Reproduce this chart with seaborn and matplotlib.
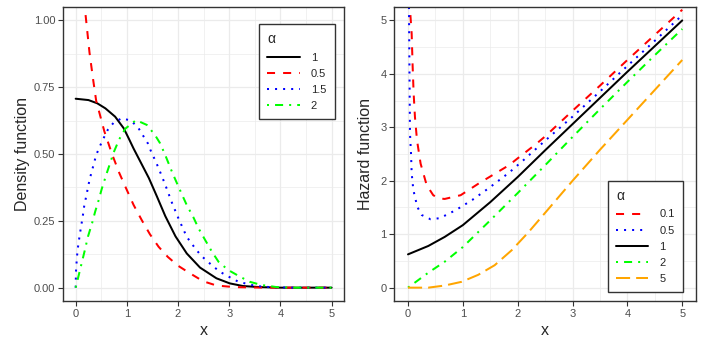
import matplotlib
matplotlib.use("Agg")
import matplotlib.pyplot as plt
from matplotlib.ticker import MultipleLocator
import seaborn as sns
import pandas as pd

# ---- density panel ----
dens_order = ["1", "0.5", "1.5", "2"]

dens_x_1 = [0, 0.25, 0.42, 0.58, 0.77, 0.94, 1.04, 1.13, 1.23, 1.43, 1.59, 1.75,
            1.95, 2.17, 2.43, 2.75, 3.01, 3.27, 3.6, 4.0, 4.5, 5.0]
dens_y_1 = [0.707, 0.702, 0.69, 0.671, 0.64, 0.596, 0.557, 0.521, 0.484, 0.41, 0.34, 0.268,
            0.192, 0.128, 0.075, 0.035, 0.016, 0.006, 0.002, 0.0, 0.0, 0.0]

dens_x_05 = [0.01, 0.05, 0.1, 0.18, 0.27, 0.34, 0.40, 0.56, 0.71, 0.85, 0.97, 1.13, 1.29,
             1.45, 1.62, 1.8, 2.0, 2.23, 2.49, 2.75, 3.1, 3.5, 4.0, 4.5, 5.0]
dens_y_05 = [4.5, 2.0, 1.42, 1.045, 0.88, 0.78, 0.70, 0.585, 0.50, 0.43, 0.378, 0.31, 0.253,
             0.2, 0.153, 0.115, 0.082, 0.054, 0.024, 0.008, 0.002, 0.0005, 0.0, 0.0, 0.0]

dens_x_15 = [0, 0.006, 0.025, 0.045, 0.058, 0.1, 0.137, 0.17, 0.21, 0.25, 0.3, 0.35, 0.40,
             0.47, 0.55, 0.625, 0.74, 0.90, 1.08, 1.22, 1.31, 1.41, 1.48, 1.55, 1.62, 1.74,
             1.88, 2.01, 2.17, 2.35, 2.46, 2.70, 2.85, 3.01, 3.18, 3.35, 3.53, 3.8, 4.2, 5.0]
dens_y_15 = [0, 0.06, 0.116, 0.151, 0.17, 0.222, 0.265, 0.31, 0.345, 0.385, 0.425, 0.46, 0.496,
             0.528, 0.561, 0.59, 0.617, 0.634, 0.625, 0.599, 0.571, 0.54, 0.506, 0.478, 0.447, 0.39,
             0.318, 0.258, 0.19, 0.143, 0.118, 0.077, 0.056, 0.039, 0.022, 0.014, 0.006, 0.002, 0.0, 0.0]

dens_x_2 = [0, 0.045, 0.12, 0.18, 0.24, 0.32, 0.38, 0.45, 0.51, 0.61, 0.68, 0.74, 0.85, 0.97,
            1.18, 1.39, 1.55, 1.65, 1.75, 1.88, 1.98, 2.08, 2.17, 2.30, 2.40, 2.53, 2.66, 2.79,
            2.98, 3.21, 3.40, 3.63, 3.93, 4.3, 5.0]
dens_y_2 = [0, 0.035, 0.094, 0.141, 0.191, 0.241, 0.284, 0.328, 0.37, 0.43, 0.47, 0.505, 0.555, 0.595,
            0.627, 0.609, 0.571, 0.54, 0.496, 0.434, 0.39, 0.347, 0.309, 0.263, 0.222, 0.178, 0.135, 0.097,
            0.066, 0.041, 0.022, 0.01, 0.002, 0.0, 0.0]

# ---- hazard panel ----
haz_order = ["0.1", "0.5", "1", "2", "5"]

haz_x_01 = [0.01, 0.036, 0.067, 0.085, 0.103, 0.127, 0.164, 0.23, 0.34, 0.46, 0.56, 0.67, 0.96,
            1.29, 1.58, 1.84, 2.0, 2.35, 2.5, 3.0, 3.5, 4.0, 4.5, 5.0]
haz_y_01 = [8.0, 5.22, 4.75, 4.13, 3.63, 3.19, 2.76, 2.32, 1.92, 1.73, 1.67, 1.66, 1.73,
            1.95, 2.13, 2.29, 2.42, 2.7, 2.83, 3.31, 3.78, 4.26, 4.73, 5.2]

haz_x_05 = [0.005, 0.018, 0.036, 0.055, 0.067, 0.097, 0.17, 0.25, 0.41, 0.58, 0.87, 1.17, 1.47,
            1.84, 2.11, 2.38, 2.5, 3.0, 3.5, 4.0, 4.5, 5.0]
haz_y_05 = [8.0, 5.2, 2.89, 2.51, 2.14, 1.83, 1.51, 1.36, 1.28, 1.30, 1.45, 1.64, 1.86,
            2.15, 2.39, 2.64, 2.75, 3.2, 3.67, 4.15, 4.62, 5.1]

haz_x_1 = [0, 0.37, 0.67, 1.0, 1.5, 2.0, 2.5, 3.0, 3.5, 4.0, 4.5, 5.0]
haz_y_1 = [0.623, 0.78, 0.95, 1.17, 1.6, 2.07, 2.57, 3.06, 3.55, 4.04, 4.52, 5.0]

haz_x_2 = [0, 0.37, 0.67, 1.0, 1.5, 2.0, 2.5, 3.0, 3.5, 4.0, 4.5, 5.0]
haz_y_2 = [0.0, 0.28, 0.486, 0.76, 1.26, 1.77, 2.29, 2.82, 3.34, 3.85, 4.35, 4.84]

haz_x_5 = [0, 0.37, 0.67, 0.98, 1.28, 1.58, 1.89, 2.19, 2.5, 3.0, 3.5, 4.0, 4.5, 5.0]
haz_y_5 = [0.0, 0.0, 0.04, 0.11, 0.24, 0.42, 0.70, 1.03, 1.4, 2.0, 2.58, 3.14, 3.70, 4.26]


def long_frame(pairs):
    parts = []
    for lab, xs, ys in pairs:
        parts.append(pd.DataFrame({"x": xs, "y": ys, "alpha": lab}))
    return pd.concat(parts, ignore_index=True)


dens_df = long_frame([("1", dens_x_1, dens_y_1), ("0.5", dens_x_05, dens_y_05),
                      ("1.5", dens_x_15, dens_y_15), ("2", dens_x_2, dens_y_2)])
haz_df = long_frame([("0.1", haz_x_01, haz_y_01), ("0.5", haz_x_05, haz_y_05),
                     ("1", haz_x_1, haz_y_1), ("2", haz_x_2, haz_y_2), ("5", haz_x_5, haz_y_5)])

# ggplot-like line types (in units of line width)
dens_colors = {"1": "black", "0.5": "red", "1.5": "blue", "2": "#00FF00"}
dens_dashes = {"1": "", "0.5": (4, 4), "1.5": (1, 3), "2": (1, 3, 4, 3)}
haz_colors = {"0.1": "red", "0.5": "blue", "1": "black", "2": "#00FF00", "5": "orange"}
haz_dashes = {"0.1": (4, 4), "0.5": (1, 3), "1": "", "2": (1, 3, 4, 3), "5": (7, 3)}

sns.set_style("ticks")
plt.rcParams["font.family"] = ["Liberation Sans", "DejaVu Sans"]

fig = plt.figure(figsize=(7.08, 3.43), dpi=100)
ax1 = fig.add_axes([0.0888, 0.1224, 0.3977, 0.857])
ax2 = fig.add_axes([0.5569, 0.1224, 0.4261, 0.857])

sns.lineplot(data=dens_df, x="x", y="y", hue="alpha", style="alpha", hue_order=dens_order,
             style_order=dens_order, palette=dens_colors, dashes=dens_dashes,
             linewidth=1.45, estimator=None, sort=False, ax=ax1)
sns.lineplot(data=haz_df, x="x", y="y", hue="alpha", style="alpha", hue_order=haz_order,
             style_order=haz_order, palette=haz_colors, dashes=haz_dashes,
             linewidth=1.45, estimator=None, sort=False, ax=ax2)

ax1.set_xlim(-0.25, 5.25)
ax1.set_ylim(-0.05, 1.05)
ax1.yaxis.set_major_locator(MultipleLocator(0.25))
ax1.yaxis.set_minor_locator(MultipleLocator(0.125))
ax1.yaxis.set_major_formatter(matplotlib.ticker.FormatStrFormatter("%.2f"))
ax2.set_xlim(-0.25, 5.25)
ax2.set_ylim(-0.25, 5.25)
ax2.yaxis.set_major_locator(MultipleLocator(1))
ax2.yaxis.set_minor_locator(MultipleLocator(0.5))

for ax in (ax1, ax2):
    ax.xaxis.set_major_locator(MultipleLocator(1))
    ax.xaxis.set_minor_locator(MultipleLocator(0.5))
    ax.grid(which="major", color="#EBEBEB", linewidth=0.9)
    ax.grid(which="minor", color="#EBEBEB", linewidth=0.5)
    ax.set_axisbelow(True)
    for sp in ax.spines.values():
        sp.set_color("#333333")
        sp.set_linewidth(1.0)
    ax.tick_params(which="major", length=3.5, width=0.8, color="#333333",
                   labelcolor="#4D4D4D", labelsize=8, pad=2)
    ax.tick_params(which="minor", length=0)
    ax.set_xlabel("x", fontsize=11.5, labelpad=3)

ax1.set_ylabel("Density function", fontsize=11.5, labelpad=3)
ax2.set_ylabel("Hazard function", fontsize=11.5, labelpad=5)

legend_style = dict(title="α", borderaxespad=0, fontsize=8, title_fontsize=10, frameon=True,
                    fancybox=False, edgecolor="#333333", framealpha=1, handlelength=2.9,
                    labelspacing=0.55, handletextpad=1.0, borderpad=0.75, alignment="left")

h1, l1 = ax1.get_legend_handles_labels()
leg1 = ax1.legend(h1, l1, loc="upper left", bbox_to_anchor=(0.697, 0.942), **legend_style)
leg1.get_frame().set_linewidth(1.0)

h2, l2 = ax2.get_legend_handles_labels()
leg2 = ax2.legend(h2, l2, loc="lower left", bbox_to_anchor=(0.707, 0.03), **legend_style)
leg2.get_frame().set_linewidth(1.0)

fig.savefig("out.png", dpi=100)
